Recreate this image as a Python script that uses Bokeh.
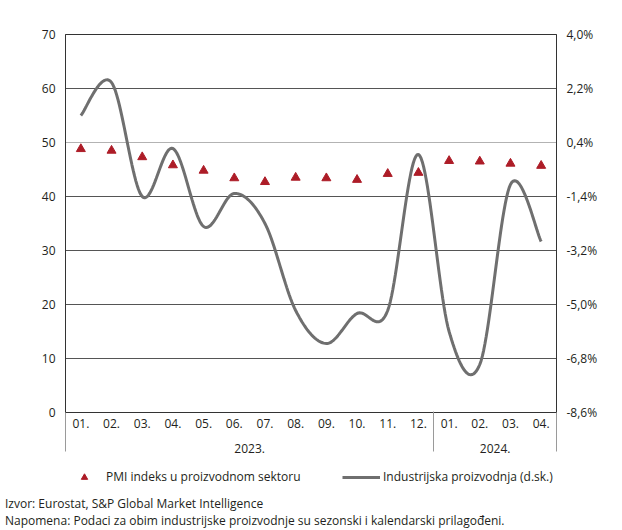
from bokeh.plotting import figure
from bokeh.layouts import column
from bokeh.models import (Range1d, LinearAxis, FixedTicker, CustomJSTickFormatter,
                          Legend, LegendItem, Span)
from bokeh.embed import file_html
from bokeh.resources import INLINE

# ---------------- data ----------------
months = ["01.", "02.", "03.", "04.", "05.", "06.", "07.", "08.", "09.", "10.", "11.", "12.",
          "01.", "02.", "03.", "04."]
years = ["2023.", "2024."]
year_counts = [12, 4]
pmi = [48.8, 48.5, 47.3, 45.8, 44.8, 43.4, 42.7, 43.5, 43.4, 43.1, 44.2, 44.4,
       46.6, 46.5, 46.1, 45.7]
ip = [1.3, 2.4, -1.4, 0.2, -2.4, -1.3, -2.3, -5.2, -6.3, -5.3, -5.2, 0.0,
      -5.9, -7.0, -1.0, -2.9]
left_ticks = [0, 10, 20, 30, 40, 50, 60, 70]
right_ticks = [-8.6, -6.8, -5.0, -3.2, -1.4, 0.4, 2.2, 4.0]
legend_labels = ["PMI indeks u proizvodnom sektoru", "Industrijska proizvodnja (d.sk.)"]
notes = ["Izvor: Eurostat, S&P Global Market Intelligence",
         "Napomena: Podaci za obim industrijske proizvodnje su sezonski i kalendarski prilagođeni."]

# ---------------- layout ----------------
W = 622
FW, FH = 491, 378
BL, BR, BT, BB = 65, 66, 34, 48
H2 = 70

FONT = "Open Sans"
FS = "12px"
TXT = "#231f20"
DARK = "#333333"
SEP = "#9a9a9a"
PMI_COLOR = "#ad1c27"
IP_COLOR = "#6f6f6f"

n = len(months)
xc = [i + 0.5 for i in range(n)]
bounds = [0]
centers = []
for cnt in year_counts:
    centers.append(bounds[-1] + cnt / 2)
    bounds.append(bounds[-1] + cnt)

p = figure(frame_width=FW, frame_height=FH, output_backend="svg", toolbar_location=None,
           x_range=Range1d(0, n), y_range=Range1d(left_ticks[0], left_ticks[-1]),
           min_border_left=BL, min_border_right=BR, min_border_top=BT, min_border_bottom=BB)
p.outline_line_color = DARK
p.outline_line_width = 1
p.background_fill_color = "white"
p.border_fill_color = "white"


def style_axis(ax, standoff):
    ax.major_tick_line_color = None
    ax.major_tick_out = 0
    ax.major_tick_in = 0
    ax.major_label_text_font = FONT
    ax.major_label_text_font_size = FS
    ax.major_label_text_color = TXT
    ax.major_label_standoff = standoff


# month axis
xa = p.xaxis[0]
xa.ticker = FixedTicker(ticks=xc, minor_ticks=[])
xa.formatter = CustomJSTickFormatter(args=dict(labels=months),
                                     code="return labels[Math.floor(tick)];")
style_axis(xa, 6)
xa.axis_line_color = DARK
xa.minor_tick_line_color = None
p.xgrid.visible = False

# year axis (its minor ticks draw the grey group separators)
ya_years = LinearAxis(ticker=FixedTicker(ticks=centers, minor_ticks=bounds),
                      formatter=CustomJSTickFormatter(
                          args=dict(labels=years, centers=centers),
                          code="for (let i = 0; i < centers.length; i++) {"
                               " if (Math.abs(centers[i] - tick) < 1e-6) return labels[i]; }"
                               " return '';"))
style_axis(ya_years, -8)
ya_years.axis_line_color = None
ya_years.minor_tick_line_color = SEP
ya_years.minor_tick_line_width = 1
ya_years.minor_tick_in = 19
ya_years.minor_tick_out = 21
p.add_layout(ya_years, "below")

# left axis
la = p.yaxis[0]
la.ticker = FixedTicker(ticks=left_ticks, minor_ticks=[])
style_axis(la, 10)
la.axis_line_color = DARK
la.minor_tick_line_color = None

# grid
p.ygrid.ticker = FixedTicker(ticks=[t for t in left_ticks if t not in (0, 50, 70)])
p.ygrid.grid_line_color = "#555555"
p.ygrid.grid_line_width = 1
p.add_layout(Span(location=50, dimension="width", line_color="#b3b3b3",
                  line_width=1, level="underlay"))

# right axis
p.extra_y_ranges = {"ip": Range1d(right_ticks[0], right_ticks[-1])}
rax = LinearAxis(y_range_name="ip", ticker=FixedTicker(ticks=right_ticks, minor_ticks=[]),
                 formatter=CustomJSTickFormatter(code="return tick.toFixed(1).replace('.', ',') + '%';"))
style_axis(rax, 10)
rax.axis_line_color = DARK
rax.minor_tick_line_color = None
p.add_layout(rax, "right")


# smooth line (Excel-style smoothing through the data points)
def smooth(xs, ys, steps=24):
    ox, oy = [], []
    m = len(xs)
    for i in range(m - 1):
        x0, y0 = xs[max(i - 1, 0)], ys[max(i - 1, 0)]
        x1, y1 = xs[i], ys[i]
        x2, y2 = xs[i + 1], ys[i + 1]
        x3, y3 = xs[min(i + 2, m - 1)], ys[min(i + 2, m - 1)]
        c1x, c1y = x1 + (x2 - x0) / 6, y1 + (y2 - y0) / 6
        c2x, c2y = x2 - (x3 - x1) / 6, y2 - (y3 - y1) / 6
        for j in range(steps + (1 if i == m - 2 else 0)):
            t = j / steps
            a, b, c, d = (1 - t) ** 3, 3 * (1 - t) ** 2 * t, 3 * (1 - t) * t ** 2, t ** 3
            ox.append(a * x1 + b * c1x + c * c2x + d * x2)
            oy.append(a * y1 + b * c1y + c * c2y + d * y2)
    return ox, oy


sx, sy = smooth(xc, ip)
p.line(sx, sy, y_range_name="ip", line_color=IP_COLOR, line_width=3)
p.scatter(xc, pmi, marker="triangle", size=9, fill_color=PMI_COLOR, line_color=PMI_COLOR)

# ---------------- bottom strip: legend + notes ----------------
p2 = figure(frame_width=W, frame_height=H2, output_backend="svg", toolbar_location=None,
            x_range=Range1d(0, W), y_range=Range1d(0, H2), x_axis_type=None, y_axis_type=None,
            min_border=0)
p2.outline_line_color = None
p2.grid.visible = False
p2.background_fill_color = "white"
p2.border_fill_color = "white"

nan = float("nan")
leg_tri = p2.scatter([nan], [nan], marker="triangle", size=9,
                     fill_color=PMI_COLOR, line_color=PMI_COLOR)
leg_line = p2.line([nan, nan], [nan, nan], line_color=IP_COLOR, line_width=3)
leg_none = p2.scatter([nan], [nan], marker="circle", size=1, fill_alpha=0, line_alpha=0)

common = dict(padding=0, margin=0, spacing=0, label_text_font=FONT, label_text_font_size=FS,
              label_text_color=TXT, border_line_alpha=0, background_fill_alpha=0)

for lab, r, xoff in [(legend_labels[0], leg_tri, 65), (legend_labels[1], leg_line, 342)]:
    p2.add_layout(Legend(items=[LegendItem(label=lab, renderers=[r])], location=(xoff, 45),
                         orientation="horizontal", glyph_width=38, glyph_height=16,
                         label_height=16, label_standoff=3, **common))

# source / note lines
p2.add_layout(Legend(items=[LegendItem(label=t, renderers=[leg_none]) for t in notes],
                     location=(5, 1), orientation="vertical", glyph_width=0, glyph_height=16,
                     label_height=16, label_standoff=0, **common))

layout = column(p, p2, spacing=0)
open("out.html", "w").write(file_html(layout, INLINE))
